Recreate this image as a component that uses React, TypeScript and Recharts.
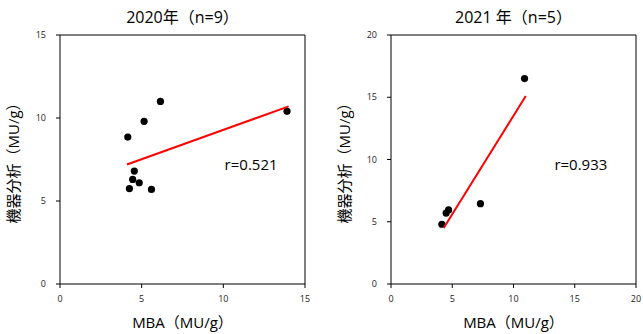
import {
  ScatterChart,
  Scatter,
  XAxis,
  YAxis,
  ReferenceLine,
  ReferenceDot,
} from "recharts";

const FONT = "'Open Sans', 'Noto Sans CJK JP', sans-serif";

// 2020 (n=9): MBA vs 機器分析
const mba2020 = [6.15, 5.15, 4.15, 4.55, 4.45, 4.85, 4.25, 5.6, 13.9];
const inst2020 = [11.0, 9.8, 8.85, 6.8, 6.3, 6.1, 5.75, 5.7, 10.4];
const fitX2020 = [4.1, 14.0];
const fitY2020 = [7.2, 10.7];

// 2021 (n=5)
const mba2021 = [10.9, 7.3, 4.7, 4.5, 4.15];
const inst2021 = [16.5, 6.45, 5.95, 5.7, 4.8];
const fitX2021 = [4.3, 11.0];
const fitY2021 = [4.5, 15.1];

const ticks15 = [0, 5, 10, 15];
const ticks20 = [0, 5, 10, 15, 20];

const toPoints = (xs: number[], ys: number[]) => xs.map((x, i) => ({ x, y: ys[i] }));

const Dot = (props: any) => <circle cx={props.cx} cy={props.cy} r={3.6} fill="#000" />;
const NoDot = () => null;

interface PanelProps {
  title: string;
  left: number;
  width: number;
  max: number;
  ticks: number[];
  points: { x: number; y: number }[];
  fit: { x: number; y: number }[];
  rText: string;
  rPos: { x: number; y: number };
}

function Panel({ title, left, width, max, ticks, points, fit, rText, rPos }: PanelProps) {
  const tickStyle = { fontSize: 9, fill: "#222", fontFamily: FONT };
  return (
    <div style={{ position: "absolute", left, top: 0, width, height: 334 }}>
      <div
        style={{
          position: "absolute",
          left: 60,
          width: 245,
          top: 6,
          textAlign: "center",
          fontSize: 16,
          fontFamily: FONT,
          color: "#000",
          lineHeight: "22px",
        }}
      >
        {title}
      </div>
      <ScatterChart
        width={width}
        height={334}
        margin={{ top: 35, right: width - 305, bottom: 0, left: 0 }}
      >
        <XAxis
          type="number"
          dataKey="x"
          domain={[0, max]}
          ticks={ticks}
          allowDataOverflow
          stroke="#000"
          tickSize={4}
          tickMargin={8}
          tick={tickStyle}
          height={50}
          label={{
            value: "MBA（MU/g）",
            position: "insideBottom",
            offset: 6,
            style: { fontSize: 15, fill: "#000", fontFamily: FONT },
          }}
        />
        <YAxis
          type="number"
          dataKey="y"
          domain={[0, max]}
          ticks={ticks}
          allowDataOverflow
          stroke="#000"
          tickSize={4}
          tickMargin={10}
          tick={tickStyle}
          width={60}
          label={{
            value: "機器分析（MU/g）",
            angle: -90,
            position: "insideLeft",
            offset: 14,
            style: { fontSize: 15, fill: "#000", fontFamily: FONT, textAnchor: "middle" },
          }}
        />
        <ReferenceLine y={max} stroke="#000" />
        <ReferenceLine x={max} stroke="#000" />
        <Scatter data={points} shape={Dot} isAnimationActive={false} />
        <Scatter
          data={fit}
          shape={NoDot}
          line={{ stroke: "#ff0000", strokeWidth: 2 }}
          isAnimationActive={false}
        />
        <ReferenceDot
          x={rPos.x}
          y={rPos.y}
          r={0}
          fill="none"
          stroke="none"
          label={{
            value: rText,
            position: "center",
            style: { fontSize: 15, fill: "#000", fontFamily: FONT },
          }}
        />
      </ScatterChart>
    </div>
  );
}

export default function App() {
  return (
    <div
      style={{
        position: "absolute",
        left: 0,
        top: 0,
        width: 643,
        height: 334,
        background: "#fff",
        overflow: "hidden",
      }}
    >
      <Panel
        title="2020年（n=9）"
        left={0}
        width={330}
        max={15}
        ticks={ticks15}
        points={toPoints(mba2020, inst2020)}
        fit={toPoints(fitX2020, fitY2020)}
        rText="r=0.521"
        rPos={{ x: 11.7, y: 7.2 }}
      />
      <Panel
        title="2021 年（n=5）"
        left={331}
        width={312}
        max={20}
        ticks={ticks20}
        points={toPoints(mba2021, inst2021)}
        fit={toPoints(fitX2021, fitY2021)}
        rText="r=0.933"
        rPos={{ x: 15.5, y: 9.55 }}
      />
    </div>
  );
}
